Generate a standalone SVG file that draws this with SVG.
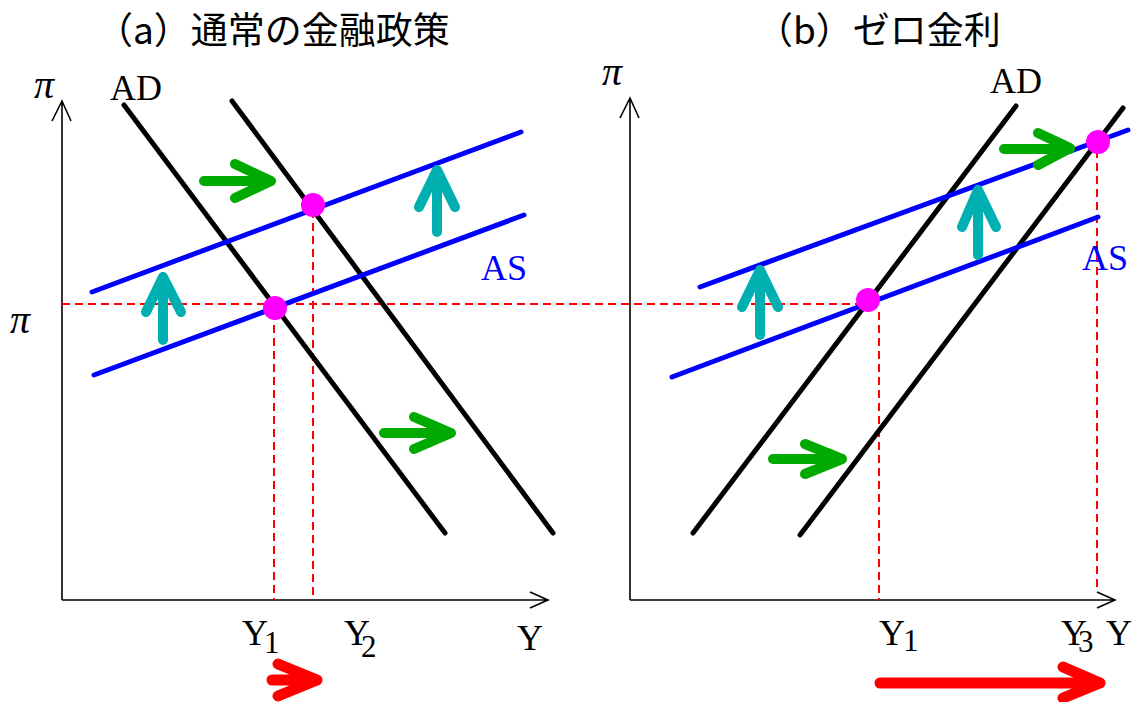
<svg xmlns="http://www.w3.org/2000/svg" width="1144" height="702" viewBox="0 0 1144 702">
<style>
.title{font-family:"Noto Sans CJK JP","Noto Sans",sans-serif;font-size:37px;fill:#000}
.lbl{font-family:"Liberation Serif",serif;font-size:36px;fill:#000}
.pi{font-family:"Liberation Serif",serif;font-style:italic;font-size:40px;fill:#000}
.sub{font-size:31px}
.as{fill:#0000ff}
.axis{stroke:#000;stroke-width:1.6;fill:none}
.ad{stroke:#000;stroke-width:5;fill:none;stroke-linecap:round}
.asl{stroke:#0000ff;stroke-width:5;fill:none;stroke-linecap:round}
.dash{stroke:#ff0000;stroke-width:2;stroke-dasharray:8,5;fill:none}
.green{stroke:#00aa00;stroke-width:10;fill:none;stroke-linecap:round;stroke-linejoin:round}
.teal{stroke:#00b0b0;stroke-width:10;fill:none;stroke-linecap:round;stroke-linejoin:round}
.red{stroke:#ff0000;stroke-width:11;fill:none;stroke-linecap:round;stroke-linejoin:round}
.dot{fill:#ff00ff}
</style>
<rect width="1144" height="702" fill="#fff"/>
<g id="titles">
<text class="title" x="96" y="44">（a）通常の金融政策</text>
<text class="title" x="756" y="44">（b）ゼロ金利</text>
</g>
<g id="panel-a">
<g id="axes-a">
<path class="axis" d="M62,600 V101 M52,121 L62,101 L71,121"/>
<path class="axis" d="M62,600 H548 M530,592 L548,600 L530,608"/>
<text class="pi" x="34" y="98">π</text>
<text class="pi" x="10" y="333">π</text>
<text class="lbl" x="517" y="650">Y</text>
<text class="lbl" x="242" y="645">Y<tspan class="sub" dx="-4" dy="8">1</tspan></text>
<text class="lbl" x="344" y="645">Y<tspan class="sub" dx="-9" dy="12">2</tspan></text>
</g>
<g id="dashes-a">
<path class="dash" d="M62,304 H858"/>
<path class="dash" d="M274,312 V600 M313,210 V600"/>
</g>
<g id="curves-a">
<path class="ad" d="M124,105 L445,533"/>
<path class="ad" d="M232,101 L553,533"/>
<path class="asl" d="M94,375 L524,215"/>
<path class="asl" d="M92,292 L521,132"/>
<text class="lbl" x="110" y="100">AD</text>
<text class="lbl as" x="481" y="280">AS</text>
</g>
<g id="points-a">
<circle class="dot" cx="275" cy="308" r="12"/>
<circle class="dot" cx="313" cy="205" r="12"/>
</g>
<g id="arrows-a">
<path class="green" d="M204,181 H271 M235,164 L271,181 L235,198"/>
<path class="green" d="M384,433 H451 M414,417 L451,433 L414,449"/>
<path class="teal" d="M163,340 V277 M146,312 L163,277 L181,312"/>
<path class="teal" d="M437,232 V170 M419,207 L437,170 L455,207"/>
<path class="red" d="M272,680 H317 M278,664 L317,680 L278,696"/>
</g>
</g>
<g id="panel-b">
<g id="axes-b">
<path class="axis" d="M630,600 V98 M620,118 L630,98 L639,118"/>
<path class="axis" d="M630,600 H1115 M1097,592 L1115,600 L1097,608"/>
<text class="pi" x="602" y="85">π</text>
<text class="lbl" x="1106" y="645">Y</text>
<text class="lbl" x="879" y="645">Y<tspan class="sub" dx="-2" dy="6">1</tspan></text>
<text class="lbl" x="1061" y="645">Y<tspan class="sub" dx="-9" dy="7">3</tspan></text>
</g>
<g id="dashes-b">
<path class="dash" d="M879,312 V600"/>
<path class="dash" d="M1097,150 V590"/>
</g>
<g id="curves-b">
<path class="ad" d="M693,533 L1016,106"/>
<path class="ad" d="M800,535 L1123,108"/>
<path class="asl" d="M672,377 L1098,217"/>
<path class="asl" d="M700,287 L1128,130"/>
<text class="lbl" x="990" y="93">AD</text>
<text class="lbl as" x="1082" y="270">AS</text>
</g>
<g id="arrows-b">
<path class="green" d="M773,459 H842 M805,444 L842,459 L805,474"/>
<path class="green" d="M1004,149 H1070 M1038,133 L1070,148 L1038,165"/>
<path class="teal" d="M760,335 V270 M742,307 L760,270 L778,307"/>
<path class="teal" d="M978,255 V190 M962,227 L978,190 L996,227"/>
<path class="red" d="M880,683 H1100 M1063,667 L1100,683 L1063,698"/>
</g>
<g id="points-b">
<circle class="dot" cx="868" cy="300" r="12"/>
<circle class="dot" cx="1098" cy="142" r="12"/>
</g>
</g>
</svg>
